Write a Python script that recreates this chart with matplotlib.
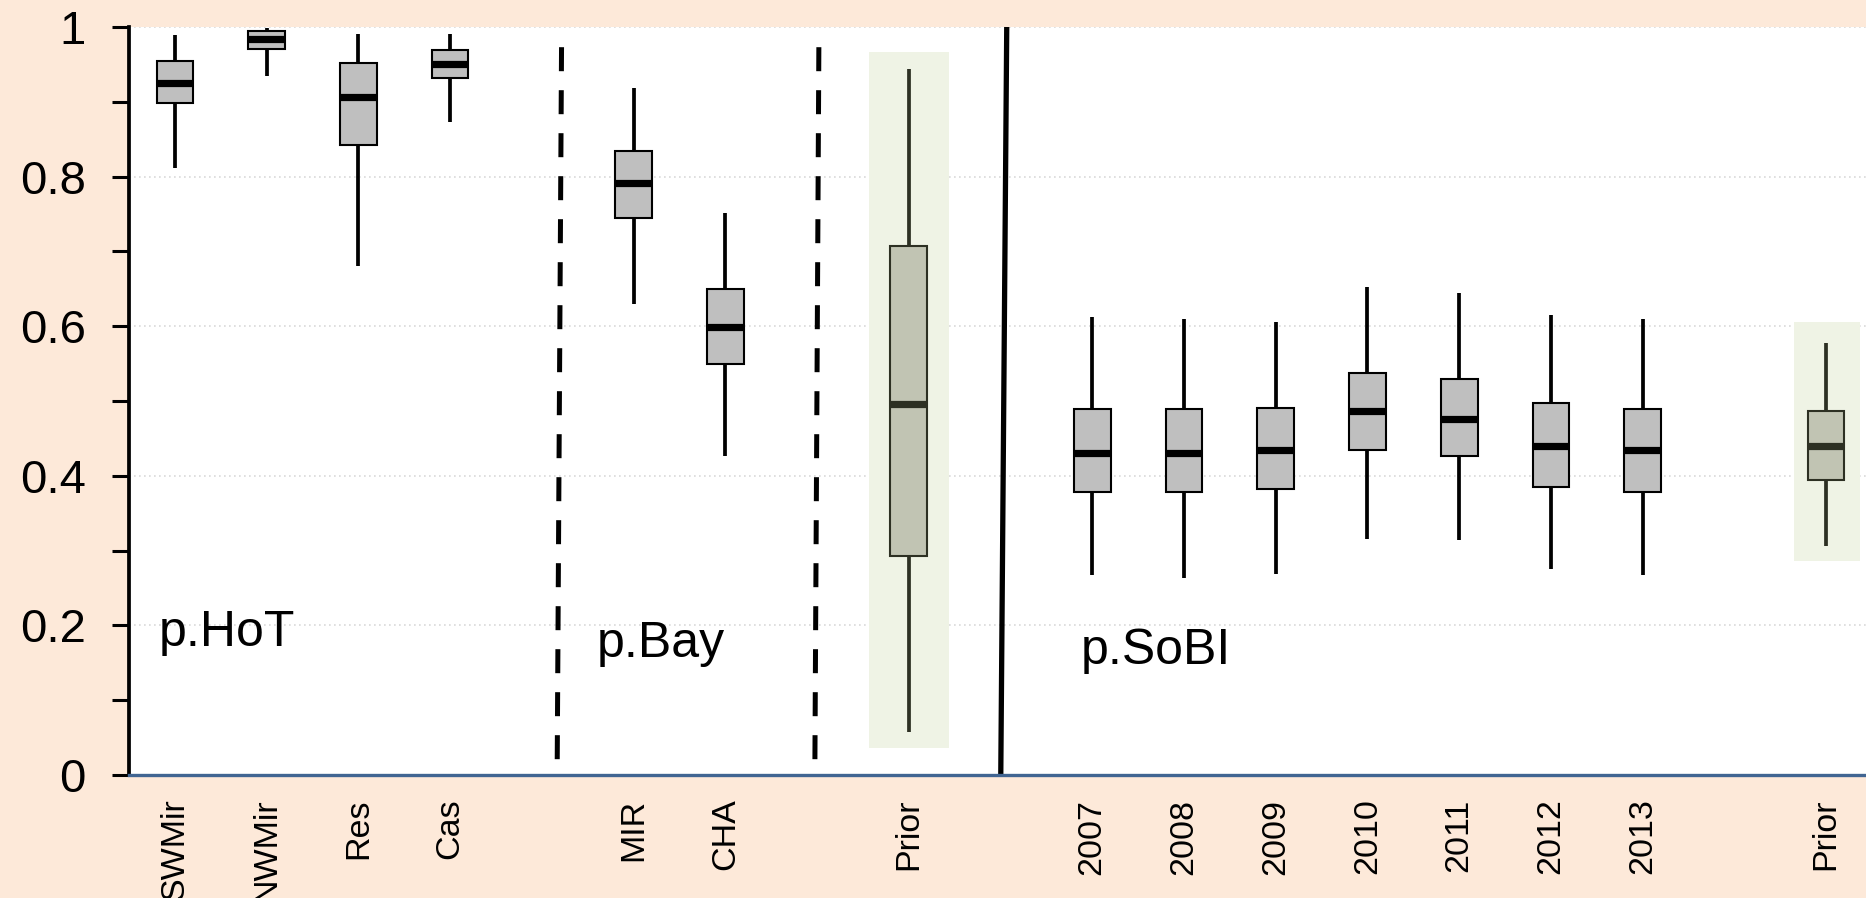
import matplotlib
matplotlib.use("Agg")
import matplotlib.pyplot as plt
from matplotlib.patches import Rectangle
from matplotlib.ticker import MultipleLocator

plt.rcParams['font.family'] = ['Liberation Sans', 'DejaVu Sans']

# ---- data (blank slots are gaps between groups) ----
labels = ['SWMir', 'NWMir', 'Res', 'Cas', '', 'MIR', 'CHA', '', 'Prior', '',
          '2007', '2008', '2009', '2010', '2011', '2012', '2013', '', 'Prior']
whis_lo = [0.811, 0.934, 0.680, 0.873, None, 0.630, 0.426, None, 0.057, None,
           0.267, 0.264, 0.269, 0.316, 0.314, 0.275, 0.267, None, 0.306]
q1 = [0.899, 0.971, 0.842, 0.932, None, 0.745, 0.550, None, 0.2925, None,
      0.379, 0.379, 0.382, 0.435, 0.427, 0.385, 0.379, None, 0.394]
med = [0.925, 0.984, 0.906, 0.950, None, 0.791, 0.599, None, 0.496, None,
       0.431, 0.431, 0.434, 0.487, 0.476, 0.440, 0.434, None, 0.440]
q3 = [0.955, 0.994, 0.952, 0.969, None, 0.834, 0.650, None, 0.707, None,
      0.489, 0.489, 0.491, 0.538, 0.530, 0.497, 0.489, None, 0.486]
whis_hi = [0.989, 0.998, 0.991, 0.991, None, 0.919, 0.752, None, 0.944, None,
           0.612, 0.609, 0.606, 0.652, 0.645, 0.615, 0.609, None, 0.577]
is_prior = [l == 'Prior' for l in labels]

# shaded background behind the prior boxes
prior_bg_lo = [0.036, 0.2865]
prior_bg_hi = [0.967, 0.605]
prior_bg_width = [0.87, 0.71]
prior_bg_shift = [0.0, 0.01]

# group separators (x at top, x at bottom, top value)
sep_dashed = [(4.215, 4.167, 0.973), (7.02, 6.976, 0.973)]
sep_solid = [(9.068, 9.003, 1.0)]

# group labels
group_text = ['p.HoT', 'p.Bay', 'p.SoBI']
group_x = [-0.18, 4.596, 9.88]
group_y = [0.172, 0.158, 0.148]

yticks = [0, 0.2, 0.4, 0.6, 0.8, 1.0]
ytick_labels = ['0', '0.2', '0.4', '0.6', '0.8', '1']

# ---- figure ----
PEACH = '#FDE9D9'
fig = plt.figure(figsize=(18.66, 8.98), dpi=100, facecolor=PEACH)
ax = fig.add_axes([129 / 1866, 123 / 898, 1743 / 1866, 748 / 898])
ax.set_facecolor('white')
ax.set_xlim(-0.5, len(labels) - 0.5)
ax.set_ylim(0, 1)

# gridlines
ax.set_axisbelow(True)
ax.yaxis.grid(True, which='major', linestyle=(0, (1, 2)), color='#D9D9D9', lw=1.2)

# prior backgrounds
prior_pos = [i for i, p in enumerate(is_prior) if p]
for pos, lo, hi, w, sh in zip(prior_pos, prior_bg_lo, prior_bg_hi, prior_bg_width, prior_bg_shift):
    ax.add_patch(Rectangle((pos + sh - w / 2, lo), w, hi - lo, facecolor='#EFF3E5',
                           edgecolor='none', zorder=1))

def stats_for(sel):
    st, pos = [], []
    for i in range(len(labels)):
        if med[i] is None or not sel(i):
            continue
        st.append(dict(med=med[i], q1=q1[i], q3=q3[i], whislo=whis_lo[i],
                       whishi=whis_hi[i], fliers=[]))
        pos.append(i)
    return st, pos

for prior_flag in (False, True):
    st, pos = stats_for(lambda i: is_prior[i] == prior_flag)
    edge = '#2D3023' if prior_flag else 'black'
    face = '#C1C4B3' if prior_flag else '#BFBFBF'
    ax.bxp(st, positions=pos, widths=0.4, patch_artist=True, showcaps=False,
           showfliers=False, manage_ticks=False,
           boxprops=dict(facecolor=face, edgecolor=edge, linewidth=1.5, zorder=3),
           whiskerprops=dict(color=edge, linewidth=2.7, solid_capstyle='butt', zorder=2),
           medianprops=dict(color=edge, linewidth=5.2, solid_capstyle='butt', zorder=4))

# separators
for xt, xb, yt in sep_dashed:
    ax.plot([xt, xb], [yt, 0], color='black', lw=3.6, dashes=(4.8, 3.8),
            solid_capstyle='butt', dash_capstyle='butt', zorder=5)
for xt, xb, yt in sep_solid:
    ax.plot([xt, xb], [yt, 0], color='black', lw=3.8, solid_capstyle='butt',
            zorder=5, clip_on=False)

# group labels
for s, x, y in zip(group_text, group_x, group_y):
    ax.text(x, y, s, fontsize=36, ha='left', va='baseline', color='black', zorder=6)

# axes styling
for side in ('top', 'right'):
    ax.spines[side].set_visible(False)
ax.spines['left'].set_color('black')
ax.spines['left'].set_linewidth(2.7)
ax.spines['bottom'].set_color('#416592')
ax.spines['bottom'].set_linewidth(2.4)
ax.spines['bottom'].set_zorder(6)

ax.set_yticks(yticks)
ax.set_yticklabels(ytick_labels)
ax.yaxis.set_minor_locator(MultipleLocator(0.1))
ax.tick_params(axis='y', which='both', direction='out', length=12, width=2.2,
               color='black', labelsize=34, pad=19)
ax.set_xticks(range(len(labels)))
ax.set_xticklabels(labels, rotation=90, fontsize=24.5, va='top', ha='center')
ax.tick_params(axis='x', length=0, pad=17)

fig.savefig('out.png', dpi=100, facecolor=PEACH)
